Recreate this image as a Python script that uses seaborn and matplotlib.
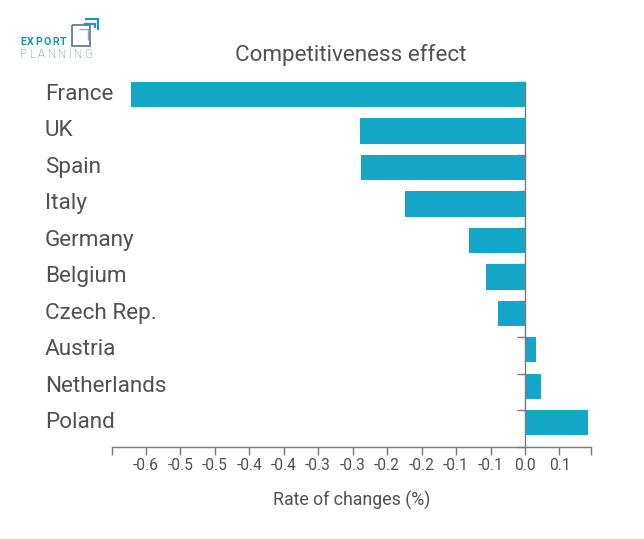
import matplotlib
matplotlib.use("Agg")
import matplotlib.pyplot as plt
import seaborn as sns
import pandas as pd
import numpy as np
from matplotlib.lines import Line2D

countries = ["France", "UK", "Spain", "Italy", "Germany", "Belgium",
             "Czech Rep.", "Austria", "Netherlands", "Poland"]
changes = [-0.571, -0.240, -0.2385, -0.174, -0.0816, -0.057, -0.0386,
           0.0155, 0.0227, 0.0908]
tick_values = [-0.55, -0.50, -0.45, -0.40, -0.35, -0.30, -0.25, -0.20,
               -0.15, -0.10, -0.05, 0.0, 0.05]
tick_labels = ["-0.6", "-0.5", "-0.5", "-0.4", "-0.4", "-0.3", "-0.3",
               "-0.2", "-0.2", "-0.1", "-0.1", "0.0", "0.1"]

sns.set_theme(style="white")
plt.rcParams["font.family"] = ["Roboto", "DejaVu Sans"]

W, H = 644, 539
fig = plt.figure(figsize=(W / 100, H / 100), dpi=100)
ax = fig.add_axes([111.7 / W, (H - 446.7) / H, 479 / W, 376.1 / H])

df = pd.DataFrame({"country": countries, "change": changes})
BAR = "#13a6c6"
TXT = "#505050"
AXC = "#7a7a7a"
bw = 0.694
sns.barplot(data=df, x="change", y="country", orient="h", color=BAR,
            saturation=1, width=bw, linewidth=0, ax=ax, zorder=3)

xmin, xmax = min(changes) * 1.05, max(changes) * 1.05
ax.set_xlim(xmin, xmax)
n = len(countries)
half = bw / 2
ax.set_ylim(n - 1 + half + 0.313, -half - 0.313)

# axes styling
for s in ["top", "right"]:
    ax.spines[s].set_visible(False)
ax.spines["left"].set_position(("data", 0))
ax.spines["left"].set_bounds(-half, n - 1 + half + 0.313)
ax.spines["left"].set_color(AXC)
ax.spines["bottom"].set_color(AXC)
ax.spines["left"].set_linewidth(1.0)
ax.spines["bottom"].set_linewidth(1.0)
ax.spines["left"].set_zorder(4)

ax.set_xticks([xmin] + tick_values + [xmax])
ax.set_xticklabels([""] + tick_labels + [""])
ax.tick_params(axis="x", direction="out", length=6, width=1, color=AXC,
               labelcolor=TXT, labelsize=11.2, pad=2, bottom=True)
yt = [i - half for i in range(n)] + [n - 1 + half + 0.313]
ax.set_yticks(yt)
ax.set_yticklabels([])
ax.tick_params(axis="y", direction="out", length=6, width=1, color=AXC,
               left=True)
ax.set_ylabel("")
ax.set_xlabel("Rate of changes (%)", fontsize=12.8, color=TXT, labelpad=13)

# category labels on the left
trans = matplotlib.transforms.blended_transform_factory(fig.transFigure, ax.transData)
for i, c in enumerate(countries):
    ax.text(45 / W, i + 0.146, c, transform=trans, ha="left", va="baseline",
            fontsize=16.2, color=TXT)

# title
fig.text(351 / W, (H - 61) / H, "Competitiveness effect", ha="center",
         va="baseline", fontsize=16.2, color=TXT)

# logo
TEAL = "#1e93ab"
GRAYB = "#5d7282"
renderer = fig.canvas.get_renderer()

def tracked(word, x0, x1, ybase, **kw):
    # draw a word letter by letter so it spans from x0 to x1 (pixels)
    widths = []
    for ch in word:
        t = fig.text(0, 0, ch, **kw)
        widths.append(t.get_window_extent(renderer).width)
        t.remove()
    gap = (x1 - x0 - sum(widths)) / (len(word) - 1)
    x = x0
    for ch, w in zip(word, widths):
        fig.text(x / W, (H - ybase) / H, ch, ha="left", va="baseline", **kw)
        x += w + gap

tracked("EXPORT", 20, 66.7, 44.6, fontsize=7.6, fontweight="bold", color=TEAL)
tracked("PLANNING", 20, 93, 58.2, fontsize=8.4, fontweight="light", color=GRAYB)

def pl(xs, ys, color, lw=1.4):
    fig.add_artist(Line2D([x / W for x in xs], [(H - y) / H for y in ys],
                          transform=fig.transFigure, color=color, lw=lw,
                          solid_capstyle="butt", solid_joinstyle="miter"))

pl([72.3, 90, 90, 72.3, 72.3], [25.3, 25.3, 46.3, 46.3, 25.3], GRAYB, 1.2)
pl([79, 88.3, 88.3], [29.3, 29.3, 40], "#9aa8b2", 1.0)
pl([84.3, 95, 95], [23.7, 23.7, 28], TEAL, 1.6)
pl([85, 98.3, 98.3], [18.7, 18.7, 30.3], TEAL, 1.6)

fig.savefig("out.png", dpi=100)
